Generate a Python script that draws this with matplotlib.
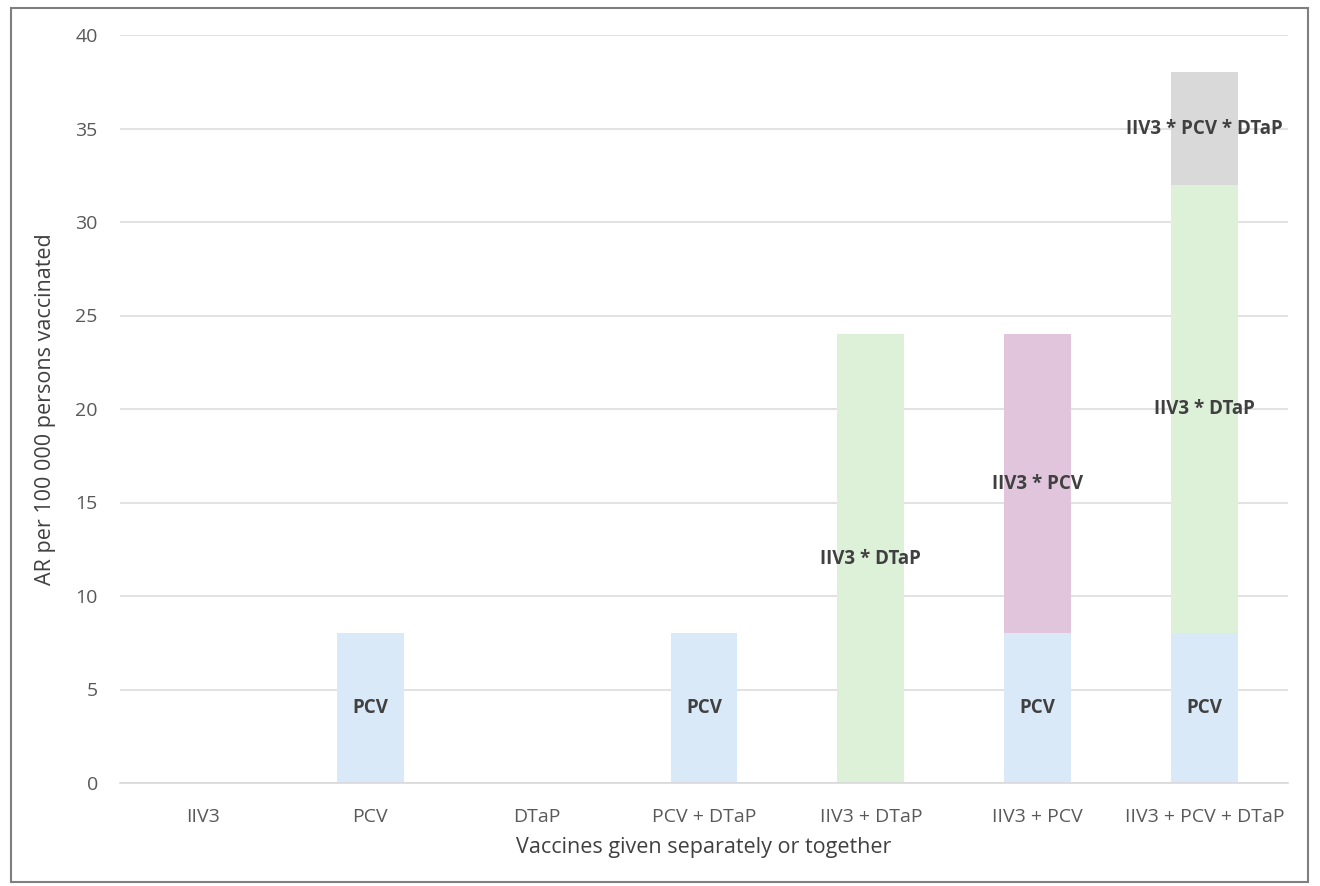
import matplotlib
matplotlib.use("Agg")
import matplotlib.pyplot as plt
from matplotlib.patches import Rectangle
import numpy as np

plt.rcParams['font.family'] = ['Open Sans', 'DejaVu Sans']

categories = ["IIV3", "PCV", "DTaP", "PCV + DTaP", "IIV3 + DTaP", "IIV3 + PCV", "IIV3 + PCV + DTaP"]
series_names = ["PCV", "IIV3 * DTaP", "IIV3 * PCV", "IIV3 * PCV * DTaP"]
pcv = [0, 8, 0, 8, 0, 8, 8]
iiv3_dtap = [0, 0, 0, 0, 24, 0, 24]
iiv3_pcv = [0, 0, 0, 0, 0, 16, 0]
iiv3_pcv_dtap = [0, 0, 0, 0, 0, 0, 6]
colors = ["#DAE9F7", "#DDF0D8", "#E0C5DD", "#D9D9D9"]
yticks = [0, 5, 10, 15, 20, 25, 30, 35, 40]

fig = plt.figure(figsize=(13.2, 8.86), dpi=100)
ax = fig.add_axes([120/1320, 1-783/886, (1288-120)/1320, (783-35)/886])

x = np.arange(len(categories))
bottom = np.zeros(len(categories))
for name, vals, col in zip(series_names, [pcv, iiv3_dtap, iiv3_pcv, iiv3_pcv_dtap], colors):
    vals = np.array(vals, dtype=float)
    ax.bar(x, vals, bottom=bottom, width=0.4, color=col, zorder=2)
    for xi, v, b in zip(x, vals, bottom):
        if v > 0:
            ax.text(xi, b + v/2, name, ha='center', va='center', fontsize=13.5,
                    fontweight='bold', color='#404040', zorder=3)
    bottom += vals

ax.set_xlim(-0.5, len(categories)-0.5)
ax.set_ylim(0, 40)
ax.set_yticks(yticks)
ax.set_xticks(x)
ax.set_xticklabels(categories)
ax.yaxis.grid(True, color='#DDDDDD', linewidth=1.2, zorder=0)
ax.set_axisbelow(True)
for s in ['top', 'right', 'left']:
    ax.spines[s].set_visible(False)
ax.spines['bottom'].set_color('#D9D9D9')
ax.spines['bottom'].set_linewidth(1.2)
ax.tick_params(axis='both', length=0, labelsize=14, labelcolor='#595959')
ax.tick_params(axis='y', pad=16)
ax.tick_params(axis='x', pad=18)
ax.set_ylabel("AR per 100 000 persons vaccinated", fontsize=15.5, color='#404040', labelpad=14)
ax.set_xlabel("Vaccines given separately or together", fontsize=15.5, color='#404040', labelpad=8)

fig.patches.append(Rectangle((11/1320, 1-882/886), (1308-11)/1320, (882-8)/886,
                             transform=fig.transFigure, fill=False,
                             edgecolor='#7F7F7F', linewidth=1.5))

fig.savefig("out.png", dpi=100)
